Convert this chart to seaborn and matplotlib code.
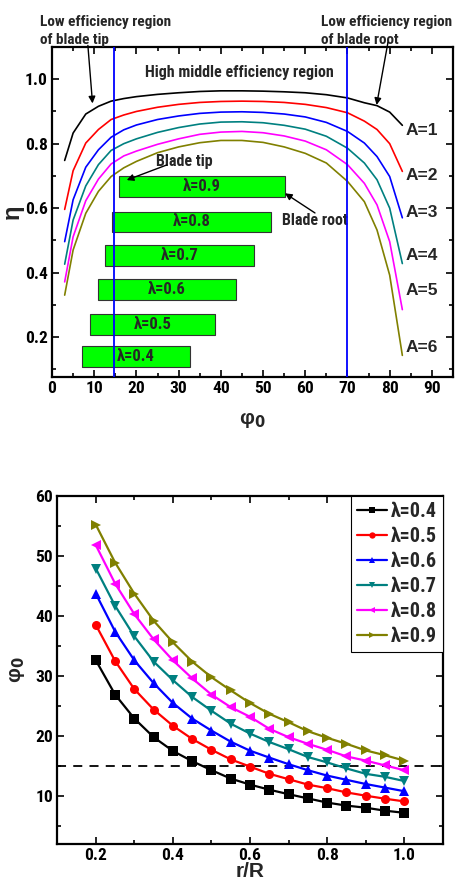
import numpy as np
import pandas as pd
import matplotlib
matplotlib.use("Agg")
import matplotlib.pyplot as plt
from matplotlib import font_manager as fm
import seaborn as sns

# ---------------- data: top panel (efficiency vs phi0) ----------------
phi0 = [3, 5, 8, 11, 14, 17, 20, 25, 30, 35, 40, 45, 50, 55, 60, 65, 70, 74, 77, 80, 83]
eta_A1 = [0.748, 0.833, 0.892, 0.916, 0.932, 0.940, 0.946, 0.953, 0.958, 0.962, 0.964,
          0.964, 0.963, 0.961, 0.958, 0.952, 0.942, 0.927, 0.918, 0.898, 0.857]
eta_A2 = [0.596, 0.716, 0.802, 0.844, 0.875, 0.889, 0.900, 0.913, 0.922, 0.928, 0.931,
          0.932, 0.931, 0.928, 0.922, 0.912, 0.896, 0.870, 0.844, 0.800, 0.714]
eta_A3 = [0.496, 0.626, 0.727, 0.781, 0.820, 0.843, 0.858, 0.875, 0.886, 0.894, 0.898,
          0.899, 0.897, 0.892, 0.883, 0.866, 0.838, 0.802, 0.760, 0.698, 0.570]
eta_A4 = [0.426, 0.563, 0.669, 0.735, 0.779, 0.800, 0.815, 0.835, 0.850, 0.861, 0.867,
          0.868, 0.865, 0.857, 0.845, 0.823, 0.786, 0.740, 0.688, 0.600, 0.428]
eta_A5 = [0.371, 0.511, 0.623, 0.690, 0.737, 0.762, 0.777, 0.798, 0.815, 0.829, 0.836,
          0.838, 0.834, 0.824, 0.808, 0.781, 0.735, 0.677, 0.610, 0.496, 0.285]
eta_A6 = [0.330, 0.470, 0.584, 0.652, 0.698, 0.725, 0.745, 0.772, 0.790, 0.803, 0.810,
          0.810, 0.804, 0.790, 0.770, 0.740, 0.683, 0.620, 0.532, 0.392, 0.143]
A_labels = ["A=1", "A=2", "A=3", "A=4", "A=5", "A=6"]
A_label_y = [0.842, 0.700, 0.587, 0.452, 0.343, 0.166]

# ---------------- data: bottom panel (phi0 vs r/R) ----------------
rR = [0.20, 0.25, 0.30, 0.35, 0.40, 0.45, 0.50, 0.55, 0.60, 0.65, 0.70, 0.75,
      0.80, 0.85, 0.90, 0.95, 1.00]
phi_l04 = [32.6, 26.9, 22.9, 19.8, 17.5, 15.8, 14.3, 12.9, 11.9, 11.05, 10.3, 9.6,
           8.9, 8.4, 8.05, 7.55, 7.2]
phi_l05 = [38.5, 32.5, 27.8, 24.4, 21.7, 19.5, 17.7, 16.1, 14.9, 13.7, 12.8, 11.9,
           11.3, 10.6, 10.05, 9.55, 9.1]
phi_l06 = [43.7, 37.4, 32.6, 28.8, 25.5, 22.9, 20.9, 19.05, 17.55, 16.4, 15.3, 14.3,
           13.4, 12.7, 12.0, 11.4, 10.8]
phi_l07 = [47.9, 41.7, 36.6, 32.4, 29.3, 26.5, 24.2, 22.05, 20.4, 19.0, 17.8, 16.5,
           15.6, 14.6, 13.7, 13.2, 12.5]
phi_l08 = [51.8, 45.4, 40.3, 36.1, 32.6, 29.6, 26.9, 24.8, 23.2, 21.2, 19.8, 18.7,
           17.7, 16.6, 15.9, 15.1, 14.3]
phi_l09 = [55.2, 48.9, 43.7, 39.2, 35.6, 32.4, 29.8, 27.6, 25.5, 23.7, 22.3, 20.8,
           19.7, 18.7, 17.6, 16.8, 15.9]
lam_labels = ["λ=0.4", "λ=0.5", "λ=0.6", "λ=0.7", "λ=0.8", "λ=0.9"]
bar_y = [0.140, 0.238, 0.348, 0.453, 0.557, 0.668]
phi_limit = 15
root_limit = 70
tip_limit = 14.7

colors = ["#000000", "#ff0000", "#0000ff", "#008080", "#ff00ff", "#808000"]
markers = ["s", "o", "^", "v", "<", ">"]

sns.set_theme(style="white")
installed = {f.name for f in fm.fontManager.ttflist}
narrow = None
for cand in ["Liberation Sans Narrow", "Roboto Condensed", "Open Sans Condensed"]:
    if cand in installed:
        narrow = cand
        break
FONT = ["Liberation Sans", "DejaVu Sans"]
if narrow:
    NFONT = [narrow, "Liberation Sans", "DejaVu Sans"]
    nscale = 1.0
else:
    NFONT = FONT
    nscale = 0.81
plt.rcParams["font.family"] = FONT
plt.rcParams["font.weight"] = "bold"
plt.rcParams["axes.labelweight"] = "bold"
plt.rcParams["mathtext.fontset"] = "dejavusans"

fig = plt.figure(figsize=(4.55, 8.82), dpi=100)
ax1 = fig.add_axes([0.1143, 0.5726, 0.8813, 0.3741])
ax2 = fig.add_axes([0.126, 0.0431, 0.847, 0.3945])

# ---------------- top panel ----------------
eta_all = [eta_A1, eta_A2, eta_A3, eta_A4, eta_A5, eta_A6]
df1 = pd.DataFrame({
    "phi0": phi0 * 6,
    "eta": sum(eta_all, []),
    "A": sum([[a] * len(phi0) for a in A_labels], []),
})
sns.lineplot(data=df1, x="phi0", y="eta", hue="A", palette=colors, lw=1.2,
             ax=ax1, legend=False, sort=False)

# green bars: span of phi0 for each lambda (from the bottom panel data)
phi_all = [phi_l04, phi_l05, phi_l06, phi_l07, phi_l08, phi_l09]
lefts = [min(p) for p in phi_all]
widths = [max(p) - min(p) for p in phi_all]
ax1.barh(bar_y, widths, left=lefts, height=0.064, color="#00ff00",
         edgecolor="#333333", linewidth=0.8, zorder=3)
for lab, y, l, w in zip(lam_labels, bar_y, lefts, widths):
    ax1.text(l + w * 0.5, y, lab, ha="center", va="center",
             fontsize=12 * nscale + (0 if narrow else 0.6),
             fontweight="bold", family=NFONT, zorder=4)

ax1.axvline(tip_limit, color="#0000ff", lw=1.3, zorder=5)
ax1.axvline(root_limit, color="#0000ff", lw=1.3, zorder=5)

for lab, y in zip(A_labels, A_label_y):
    ax1.text(83.8, y, lab, ha="left", va="center", fontsize=12.5, fontweight="bold")

big = 11.0 * nscale
ax1.text(-2.8, 1.15, "Low efficiency region\nof blade tip", ha="left", va="center",
         fontsize=big, fontweight="bold", linespacing=1.4, clip_on=False,
         family=NFONT)
ax1.text(63.8, 1.15, "Low efficiency region\nof blade root", ha="left", va="center",
         fontsize=big, fontweight="bold", linespacing=1.4, clip_on=False,
         family=NFONT)
ax1.text(44.3, 1.02, "High middle efficiency region", ha="center", va="center",
         fontsize=11.5 * nscale, fontweight="bold", family=NFONT)
ax1.text(31.4, 0.746, "Blade tip", ha="center", va="center", fontsize=11.5 * nscale,
         fontweight="bold", family=NFONT)
ax1.text(62.3, 0.563, "Blade root", ha="center", va="center", fontsize=11.5 * nscale,
         fontweight="bold", family=NFONT)

ap = dict(arrowstyle="-|>", color="black", lw=1.0, mutation_scale=10,
          shrinkA=0, shrinkB=0)
ax1.annotate("", xy=(9.6, 0.925), xytext=(8.5, 1.105), arrowprops=ap,
             annotation_clip=False)
ax1.annotate("", xy=(76.9, 0.92), xytext=(79.6, 1.115), arrowprops=ap,
             annotation_clip=False)
ax1.annotate("", xy=(17.7, 0.687), xytext=(27.2, 0.734), arrowprops=ap)
ax1.annotate("", xy=(55.2, 0.646), xytext=(62.3, 0.585), arrowprops=ap)

ax1.set_xlim(0, 95)
ax1.set_ylim(0.076, 1.1)
ax1.set_xticks(np.arange(0, 91, 10))
ax1.set_xticks(np.arange(5, 95, 10), minor=True)
ax1.set_yticks([0.2, 0.4, 0.6, 0.8, 1.0])
ax1.set_yticks([0.1, 0.3, 0.5, 0.7, 0.9], minor=True)
ax1.set_yticklabels(["0.2", "0.4", "0.6", "0.8", "1.0"])
ax1.set_xlabel("φ$_0$", fontsize=15, labelpad=10)
ax1.set_ylabel("η", fontsize=17, labelpad=1)

# ---------------- bottom panel ----------------
df2 = pd.DataFrame({
    "r/R": rR * 6,
    "phi0": sum(phi_all, []),
    "lam": sum([[l] * len(rR) for l in lam_labels], []),
})
sns.lineplot(data=df2, x="r/R", y="phi0", hue="lam", style="lam",
             palette=colors, markers=markers, dashes=False, lw=1.6,
             markersize=6.5, markeredgewidth=0, ax=ax2)
ax2.axhline(phi_limit, color="black", lw=1.3, ls=(0, (5, 4)), zorder=1)

ax2.set_xlim(0.1, 1.1)
ax2.set_ylim(2, 60)
ax2.set_xticks([0.2, 0.4, 0.6, 0.8, 1.0])
ax2.set_xticklabels(["0.2", "0.4", "0.6", "0.8", "1.0"])
ax2.set_xticks([0.3, 0.5, 0.7, 0.9], minor=True)
ax2.set_yticks([10, 20, 30, 40, 50, 60])
ax2.set_yticks([5, 15, 25, 35, 45, 55], minor=True)
ax2.set_xlabel("r/R", fontsize=15, labelpad=-1)
ax2.set_ylabel("φ$_0$", fontsize=15, labelpad=6)

leg = ax2.legend(loc="upper right", bbox_to_anchor=(1.0, 1.0), frameon=True,
                 fancybox=False, edgecolor="black", framealpha=1,
                 prop={"family": NFONT, "weight": "bold", "size": 14.5},
                 handlelength=1.45, handletextpad=0.2, labelspacing=0.3,
                 borderpad=0.3, borderaxespad=0.0, markerscale=0.7, title=None)
leg.get_frame().set_linewidth(0.8)

for ax in (ax1, ax2):
    for s in ax.spines.values():
        s.set_linewidth(1.6)
        s.set_color("black")
    ax.tick_params(which="both", direction="in", top=True, right=True,
                   bottom=True, left=True, colors="black", width=1.2)
    ax.tick_params(which="major", length=5, labelsize=12.5, pad=3)
    ax.tick_params(which="minor", length=3)
    for t in ax.get_xticklabels() + ax.get_yticklabels():
        t.set_fontweight("bold")
        t.set_family(NFONT)

fig.savefig("out.png", dpi=100)
